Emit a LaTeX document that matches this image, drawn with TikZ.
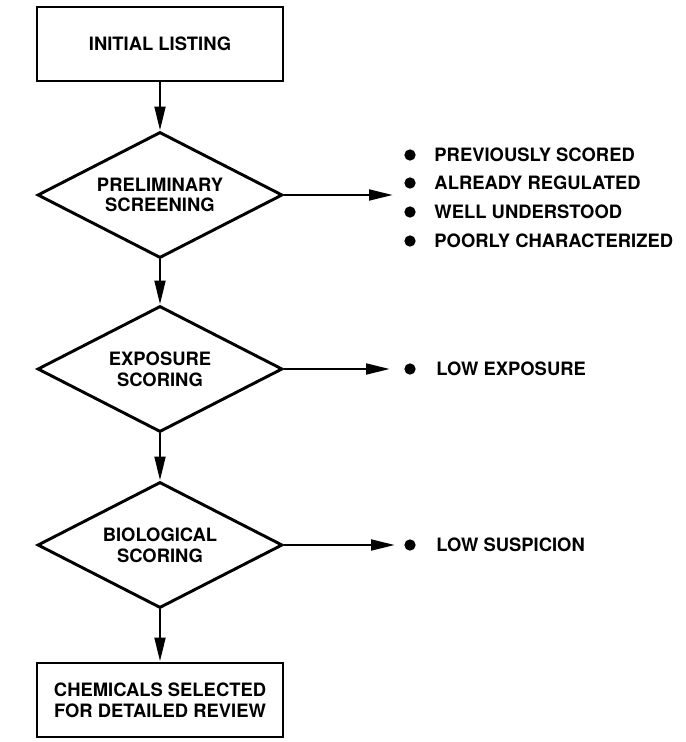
\documentclass[tikz,border=0pt]{standalone}
\usepackage{fontspec}
\setmainfont{TeX Gyre Heros}
\usetikzlibrary{shapes.geometric,arrows.meta}

\tikzset{every picture/.style={line width=2.2pt}}
\tikzset{
  txt/.style={font=\bfseries\fontsize{13.8}{15.5}\selectfont},
  stepbox/.style={draw,rectangle,minimum width=184.5pt,minimum height=55.5pt,inner sep=0pt,align=center,txt},
  choice/.style={draw,diamond,aspect=2,minimum width=183.75pt,minimum height=94.5pt,inner sep=0pt,align=center,txt},
  dot/.style={circle,fill=black,inner sep=0pt,minimum size=8.5pt},
  item/.style={anchor=west,inner sep=0pt,txt},
  flow/.style={-{Triangle[length=18pt,width=8pt]}}
}

\begin{document}
\begin{tikzpicture}[x=0.75pt,y=0.75pt,yscale=-1,xscale=1]
\useasboundingbox (0,0) rectangle (685,742);

% Boxes
\node [stepbox] (listing) at (160,44) {INITIAL LISTING};
\node [stepbox] (selected) at (160,700) {CHEMICALS SELECTED\\FOR DETAILED REVIEW};

% Diamonds
\node [choice] (prelim) at (160,195) {PRELIMINARY\\SCREENING};
\node [choice] (expo) at (160,369) {EXPOSURE\\SCORING};
\node [choice] (bio) at (160,545) {BIOLOGICAL\\SCORING};

% Arrow ends
\coordinate (prelimEnd) at (393,195);
\coordinate (expoEnd) at (390,369);
\coordinate (bioEnd) at (395,545);

% Bullets and texts
\node [dot] (d1) at (410,155) {};
\node [item] (t1) at (433,155) {PREVIOUSLY SCORED};
\node [dot] (d2) at (410,183) {};
\node [item] (t2) at (433,183) {ALREADY REGULATED};
\node [dot] (d3) at (410,212) {};
\node [item] (t3) at (433,212) {WELL UNDERSTOOD};
\node [dot] (d4) at (410,241) {};
\node [item] (t4) at (433,241) {POORLY CHARACTERIZED};
\node [dot] (d5) at (410,369) {};
\node [item] (t5) at (435,369) {LOW EXPOSURE};
\node [dot] (d6) at (410,545) {};
\node [item] (t6) at (435,545) {LOW SUSPICION};

% Down arrows
\draw [flow] (listing) -- (prelim);
\draw [flow] (prelim) -- (expo);
\draw [flow] (expo) -- (bio);
\draw [flow] (bio) -- (selected);

% Side arrows
\draw [flow] (prelim.east) -- (prelimEnd);
\draw [flow] (expo.east) -- (expoEnd);
\draw [flow] (bio.east) -- (bioEnd);

\end{tikzpicture}
\end{document}
